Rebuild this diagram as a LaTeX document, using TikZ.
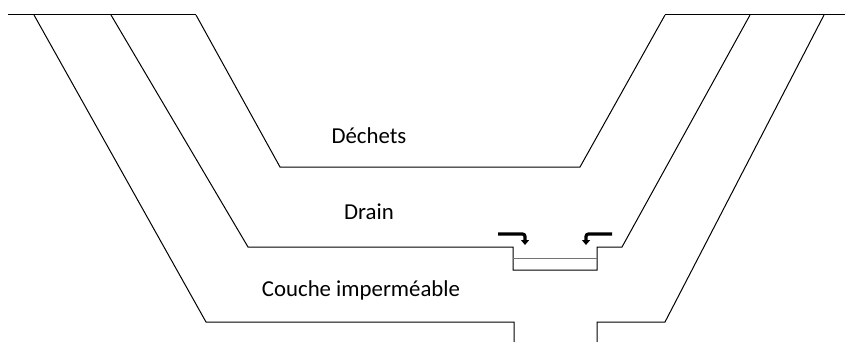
\documentclass[tikz,border=0pt]{standalone}
\usepackage{fontspec}
\setmainfont{Carlito}
\usetikzlibrary{arrows.meta}
\begin{document}
\begin{tikzpicture}[x=1pt,y=-1pt,
  wall/.style={line width=1pt, line join=miter},
  liner/.style={line width=1pt, black!55},
  flow/.style={line width=3.2pt, rounded corners=2.5pt, -{Triangle[length=5pt,width=8pt]}},
  layer/.style={font=\fontsize{22.8}{27}\selectfont, inner sep=0pt, anchor=base}]
\useasboundingbox (0,0) rectangle (845,342);
% ground surface
\draw[wall] (8,15) -- (196,15);
\draw[wall] (665,15) -- (845,15);
% outer boundary of the impermeable layer
\draw[wall] (34,15) -- (206,322) -- (514,322) -- (514,342);
\draw[wall] (597,342) -- (597,322) -- (665,322) -- (824,15);
% drain layer with its collection trench
\draw[wall] (111,15) -- (248,247) -- (513,247) -- (513,270) -- (597,270) -- (597,247) -- (622,247) -- (750,15);
\draw[liner] (513,258) -- (597,258);
% waste body
\draw[wall] (196,15) -- (280,167) -- (580,167) -- (665,15);
% flow towards the trench
\draw[flow] (498,234) -- (525,234) -- (525,245);
\draw[flow] (612,234) -- (586,234) -- (586,245);
% layer names
\node[layer] (dechets) at (369,143) {Déchets};
\node[layer] (drain) at (369,219) {Drain};
\node[layer] (couche) at (361,296) {Couche imperméable};
\end{tikzpicture}
\end{document}
